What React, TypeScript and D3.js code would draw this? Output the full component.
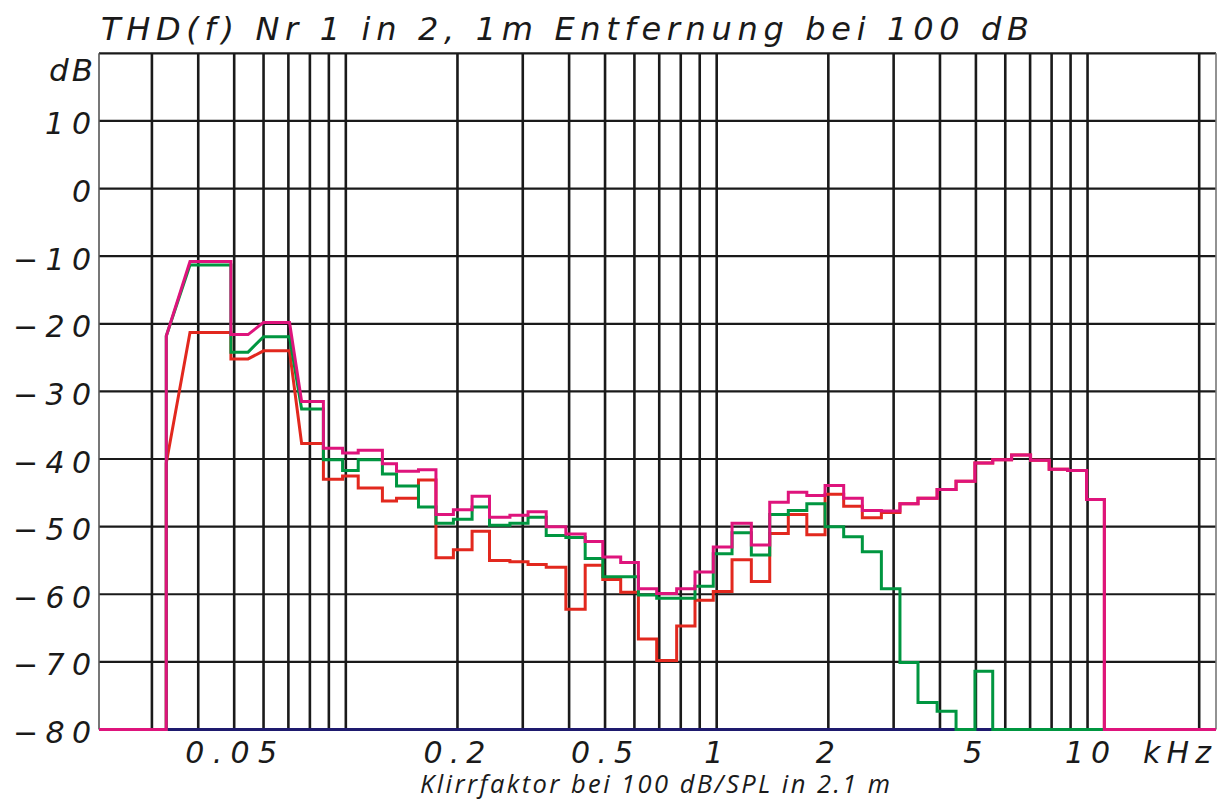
import React from "react";
import * as d3 from "d3";

const W = 1225;
const H = 801;

const titleText = "THD(f) Nr 1 in 2, 1m Entfernung bei 100 dB";
const subtitleText = "Klirrfaktor bei 100 dB/SPL in 2.1 m";
const yUnit = "dB";
const xUnit = "kHz";

const yTicks = [10, 0, -10, -20, -30, -40, -50, -60, -70, -80];
const xTickLabels = [
  { f: 0.05, label: "0.05" },
  { f: 0.2, label: "0.2" },
  { f: 0.5, label: "0.5" },
  { f: 1, label: "1" },
  { f: 2, label: "2" },
  { f: 5, label: "5" },
  { f: 10, label: "10" },
];
const gridKHz = [
  0.03, 0.04, 0.05, 0.06, 0.07, 0.08, 0.09, 0.1, 0.2, 0.3, 0.4, 0.5, 0.6, 0.7,
  0.8, 0.9, 1, 2, 3, 4, 5, 6, 7, 8, 9, 10, 20,
];

// frequency bands (kHz)
const bandStart = [
  0.0216, 0.0328, 0.038, 0.049, 0.06, 0.076, 0.087, 0.098, 0.108, 0.1255, 0.137,
  0.157, 0.175, 0.195, 0.219, 0.244, 0.277, 0.31, 0.347, 0.392, 0.442, 0.493,
  0.551, 0.615, 0.689, 0.78, 0.874, 0.979, 1.1, 1.24, 1.39, 1.56, 1.75, 1.96,
  2.2, 2.47, 2.78, 3.12, 3.49, 3.93, 4.42, 4.97, 5.55, 6.24, 7.02, 7.88, 8.83,
  9.94, 11.1,
];
const bandEnd = [
  0.0328, 0.0328, 0.049, 0.0545, 0.0705, 0.087, 0.098, 0.108, 0.1255, 0.137,
  0.157, 0.175, 0.195, 0.219, 0.244, 0.277, 0.31, 0.347, 0.392, 0.442, 0.493,
  0.551, 0.615, 0.689, 0.78, 0.874, 0.979, 1.1, 1.24, 1.39, 1.56, 1.75, 1.96,
  2.2, 2.47, 2.78, 3.12, 3.49, 3.93, 4.42, 4.97, 5.55, 6.24, 7.02, 7.88, 8.83,
  9.94, 11.1, 22.2,
];

const magentaDb = [
  -80, -21.8, -10.8, -21.6, -19.8, -31.5, -38.4, -39.1, -38.7, -40.7, -41.8,
  -41.6, -48.2, -47.5, -45.5, -48.6, -48.3, -47.8, -50.0, -51.1, -52.2, -54.5,
  -55.3, -59.2, -59.9, -59.2, -56.7, -53.0, -49.5, -52.7, -46.4, -44.9, -45.4,
  -43.9, -45.8, -47.6, -47.7, -46.6, -45.8, -44.5, -43.3, -40.6, -40.1, -39.4,
  -40.2, -41.5, -41.7, -46.0, -80,
];
const greenDb = [
  -80, -21.8, -11.3, -24.2, -21.9, -32.6, -40.1, -41.7, -40.1, -42.2, -44.0,
  -47.1, -49.5, -48.9, -47.1, -49.8, -49.5, -48.6, -51.3, -51.6, -54.7, -57.4,
  -57.4, -60.1, -60.6, -60.6, -58.8, -54.0, -50.9, -54.2, -48.2, -47.6, -46.6,
  -50.0, -51.5, -53.7, -59.2, -70.1, -76.0, -77.3, -80, -71.4, -80, -80, -80,
  -80, -80, -80, null,
];
const redDb = [
  -80, -40.6, -21.3, -25.2, -24.0, -37.7, -43.0, -42.5, -44.3, -46.2, -45.8,
  -43.1, -54.6, -53.4, -50.7, -55.0, -55.2, -55.6, -56.0, -62.2, -55.7, -57.8,
  -59.7, -66.6, -69.8, -64.7, -60.9, -59.6, -54.9, -58.1, -51.0, -48.2, -51.2,
  -45.2, -47.0, -48.7, -47.9, -46.6, -45.8, -44.5, -43.3, -40.6, -40.1, -39.4,
  -40.2, -41.5, -41.7, -46.0, -80,
];

const series = [
  { name: "red", values: redDb, color: "#e2281e" },
  { name: "green", values: greenDb, color: "#009640" },
  { name: "magenta", values: magentaDb, color: "#de147c" },
];

const FONT = "'DejaVu Sans', sans-serif";

export default function App() {
  const x = d3.scaleLog().domain([0.0216, 22.2]).range([99, 1216]);
  const y = d3.scaleLinear().domain([-80, 20]).range([729.5, 53.3]);

  const line = d3
    .line<[number, number | null]>()
    .defined((d) => d[1] != null)
    .x((d) => x(d[0]))
    .y((d) => y(d[1] as number));

  const toPoints = (vals: (number | null)[]) => {
    const pts: [number, number | null][] = [];
    vals.forEach((v, i) => {
      pts.push([bandStart[i], v]);
      pts.push([bandEnd[i], v]);
    });
    return pts;
  };

  const x0 = x.range()[0];
  const x1 = x.range()[1];

  return (
    <svg
      width={W}
      height={H}
      style={{ position: "absolute", left: 0, top: 0, background: "#fff" }}
    >
      <rect x={0} y={0} width={W} height={H} fill="#fff" />
      {/* horizontal grid */}
      {yTicks.concat([20]).map((t) => (
        <line
          key={"h" + t}
          x1={x0}
          x2={x1}
          y1={y(t)}
          y2={y(t)}
          stroke="#1a1a1a"
          strokeWidth={2.2}
        />
      ))}
      {/* vertical grid */}
      {gridKHz.map((f) => (
        <line
          key={"v" + f}
          x1={x(f)}
          x2={x(f)}
          y1={y(20)}
          y2={y(-80)}
          stroke="#1a1a1a"
          strokeWidth={2.6}
        />
      ))}
      {/* frame left/right */}
      <line x1={x0} x2={x0} y1={y(20)} y2={y(-80)} stroke="#555" strokeWidth={1.6} />
      <line x1={x1} x2={x1} y1={y(20)} y2={y(-80)} stroke="#777" strokeWidth={1.6} />
      {/* baseline */}
      <line x1={x0} x2={x1} y1={y(-80)} y2={y(-80)} stroke="#1e1a6e" strokeWidth={3} />
      {/* series */}
      {series.map((s) => (
        <path
          key={s.name}
          d={line(toPoints(s.values)) || ""}
          fill="none"
          stroke={s.color}
          strokeWidth={3}
          strokeLinejoin="miter"
        />
      ))}
      {/* title */}
      <text
        x={101}
        y={40}
        fontFamily={FONT}
        fontStyle="italic"
        fontSize={32}
        fill="#1a1a1a"
        textLength={928}
        lengthAdjust="spacing"
      >
        {titleText}
      </text>
      {/* y unit */}
      <text
        x={93}
        y={81}
        textAnchor="end"
        fontFamily={FONT}
        fontStyle="italic"
        fontSize={31}
        fill="#1a1a1a"
        textLength={44}
        lengthAdjust="spacing"
      >
        {yUnit}
      </text>
      {/* y tick labels */}
      {yTicks.map((t) => {
        const label = t < 0 ? "\u2212" + Math.abs(t) : String(t);
        const props: any = {};
        if (label.length === 2) props.textLength = 46;
        if (label.length === 3) props.textLength = 78;
        if (label.length > 1) props.lengthAdjust = "spacing";
        return (
          <text
            key={"yl" + t}
            x={91}
            y={y(t) + 13.5}
            textAnchor="end"
            fontFamily={FONT}
            fontStyle="italic"
            fontSize={30}
            fill="#1a1a1a"
            {...props}
          >
            {label}
          </text>
        );
      })}
      {/* x tick labels */}
      {xTickLabels.map((d) => {
        const props: any = {};
        if (d.label.length === 4) props.textLength = 92;
        if (d.label.length === 3) props.textLength = 62;
        if (d.label.length === 2) props.textLength = 45;
        if (d.label.length > 1) props.lengthAdjust = "spacing";
        return (
          <text
            key={"xl" + d.label}
            x={x(d.f) - (d.f === 10 ? 0 : 3)}
            y={763}
            textAnchor="middle"
            fontFamily={FONT}
            fontStyle="italic"
            fontSize={30}
            fill="#1a1a1a"
            {...props}
          >
            {d.label}
          </text>
        );
      })}
      <text
        x={1143}
        y={763}
        fontFamily={FONT}
        fontStyle="italic"
        fontSize={30}
        fill="#1a1a1a"
        textLength={68}
        lengthAdjust="spacing"
      >
        {xUnit}
      </text>
      {/* subtitle */}
      <text
        x={420}
        y={793}
        fontFamily="'Open Sans', sans-serif"
        fontStyle="italic"
        fontSize={25.5}
        fill="#1a1a1a"
        textLength={470}
        lengthAdjust="spacing"
      >
        {subtitleText}
      </text>
    </svg>
  );
}
